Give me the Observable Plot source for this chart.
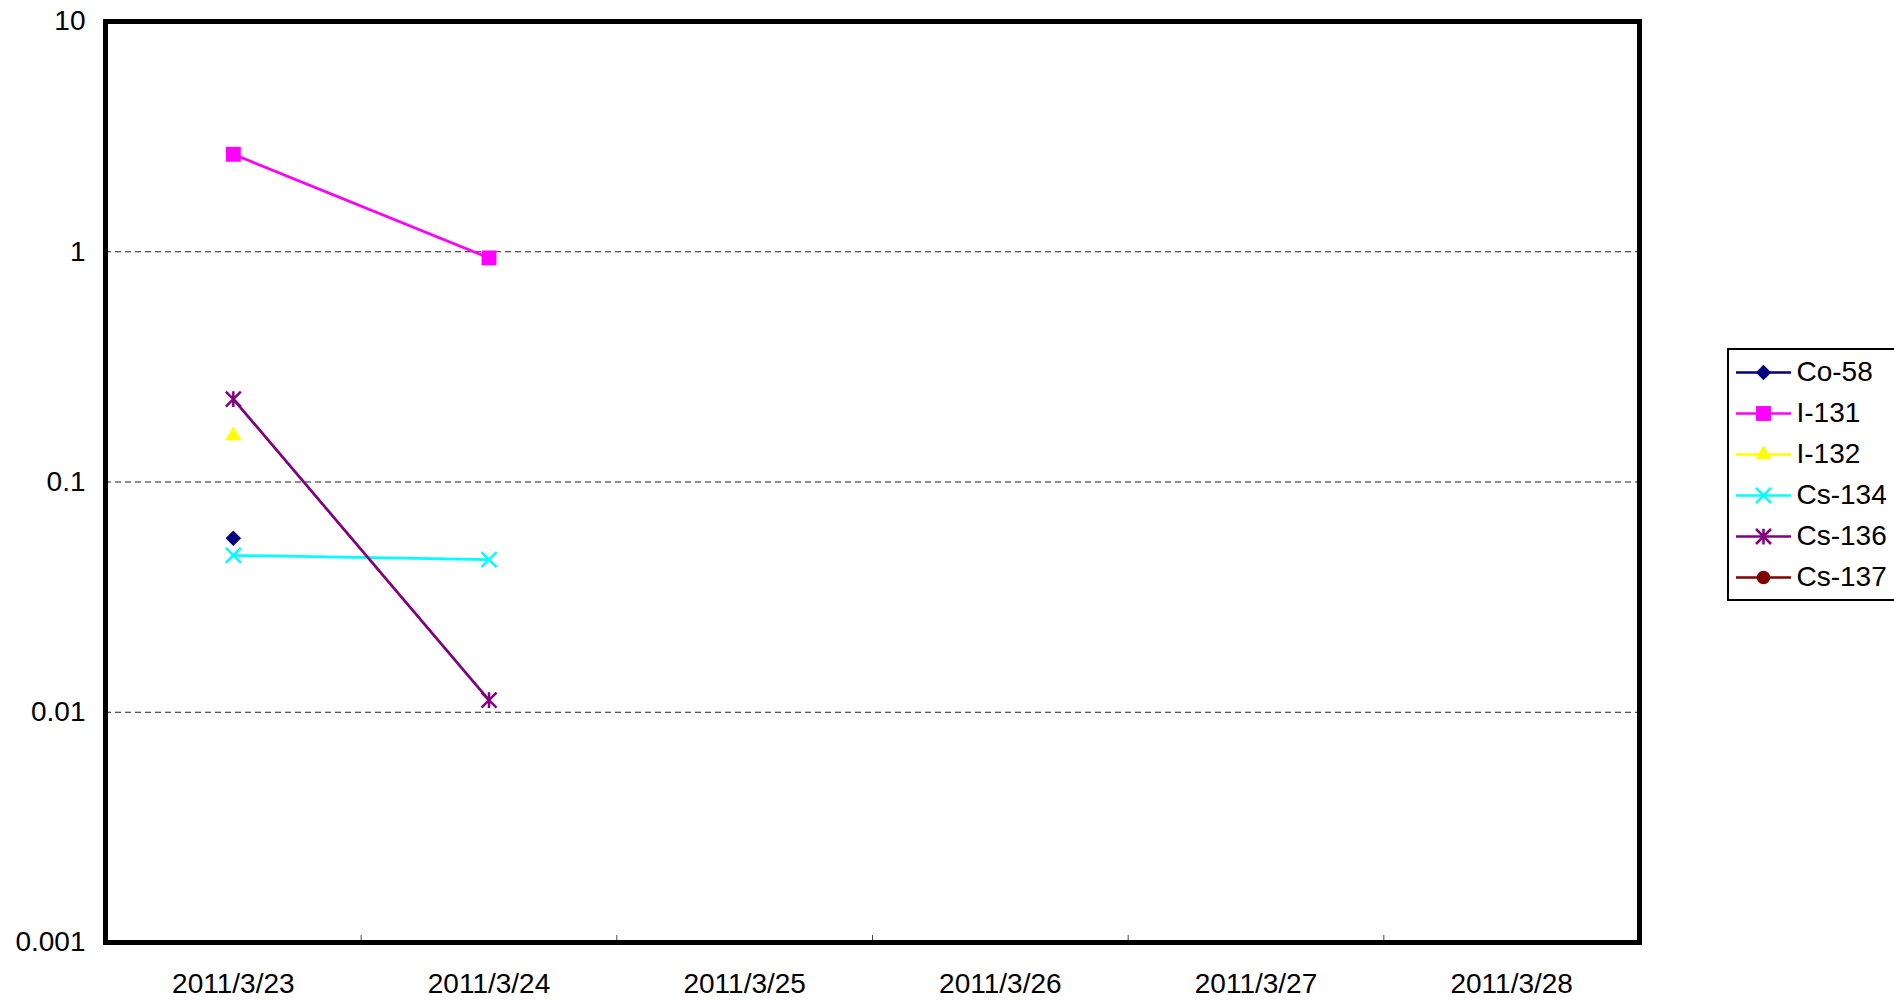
<!DOCTYPE html>
<html><head><meta charset="utf-8">
<script src="https://cdn.jsdelivr.net/npm/d3@7"></script>
<script src="https://cdn.jsdelivr.net/npm/@observablehq/plot@0.6"></script>
<style>
html,body{margin:0;padding:0;background:#fff;overflow:hidden;}
#wrap{position:relative;width:1894px;height:1000px;font-family:"Liberation Sans",Arial,sans-serif;}
#legend{position:absolute;left:1727px;top:348px;width:220px;border:2px solid #000;padding-top:1.5px;padding-bottom:1px;background:#fff;}
.row{display:flex;align-items:center;height:41px;font-size:28px;color:#000;}
.row svg{margin-left:7px;margin-right:5.5px;flex:none;}
</style></head><body><div id="wrap"></div>
<script>
// ---- data ----
const dates = ["2011/3/23", "2011/3/24", "2011/3/25", "2011/3/26", "2011/3/27", "2011/3/28"];
const nuclides = ["Co-58", "I-131", "I-132", "Cs-134", "Cs-136", "Cs-137"];
const co58  = [0.057, null, null, null, null, null];
const i131  = [2.65, 0.94, null, null, null, null];
const i132  = [0.159, null, null, null, null, null];
const cs134 = [0.048, 0.046, null, null, null, null];
const cs136 = [0.229, 0.0113, null, null, null, null];
const cs137 = [null, null, null, null, null, null];
const yTicks = [0.001, 0.01, 0.1, 1, 10];
const seriesValues = [co58, i131, i132, cs134, cs136, cs137];

// ---- styles ----
const asterisk = {
  draw(ctx, size) {
    const r = Math.sqrt(size / Math.PI);
    ctx.moveTo(-r, -r); ctx.lineTo(r, r);
    ctx.moveTo(r, -r); ctx.lineTo(-r, r);
    ctx.moveTo(0, -r * 1.05); ctx.lineTo(0, r * 1.05);
  }
};
const styles = {
  "Co-58":  {color: "#000080", symbol: "diamond2", d3sym: d3.symbolDiamond2, r: 7.0, filled: true},
  "I-131":  {color: "#FF00FF", symbol: "square",   d3sym: d3.symbolSquare,   r: 8.4, filled: true},
  "I-132":  {color: "#FFFF00", symbol: "triangle", d3sym: d3.symbolTriangle, r: 6.0, filled: true},
  "Cs-134": {color: "#00FFFF", symbol: "times",    d3sym: d3.symbolTimes,    r: 6.9, filled: false},
  "Cs-136": {color: "#800080", symbol: asterisk,   d3sym: asterisk,          r: 7.5, filled: false},
  "Cs-137": {color: "#800000", symbol: "circle",   d3sym: d3.symbolCircle,   r: 6.8, filled: true}
};

const rows = nuclides.flatMap((n, si) => dates.map((d, di) => ({nuclide: n, date: d, value: seriesValues[si][di]})));
const xPos = d => dates.indexOf(d.date) + 0.5;

const marks = [
  Plot.ruleY(yTicks.slice(1, -1), {stroke: "#222", strokeWidth: 1, strokeDasharray: "6,4"}),
  Plot.axisX({ticks: d3.range(1, dates.length), tickSize: -7, tickFormat: () => "", stroke: "#444", label: null}),
  Plot.axisX({ticks: dates.map((d, i) => i + 0.5), tickFormat: v => dates[Math.round(v - 0.5)], tickSize: 0, tickPadding: 31, label: null}),
  Plot.axisY({ticks: yTicks, tickFormat: v => String(v), tickSize: 0, tickPadding: 20, label: null})
];
for (const n of nuclides) {
  const s = styles[n];
  const data = rows.filter(r => r.nuclide === n);
  marks.push(Plot.line(data, {x: xPos, y: "value", stroke: s.color, strokeWidth: 2.75}));
}
for (const n of nuclides) {
  const s = styles[n];
  const data = rows.filter(r => r.nuclide === n && r.value != null);
  if (s.filled) marks.push(Plot.dot(data, {x: xPos, y: "value", symbol: s.symbol, r: s.r, fill: s.color, stroke: "none"}));
  else marks.push(Plot.dot(data, {x: xPos, y: "value", symbol: s.symbol, r: s.r, fill: "none", stroke: s.color, strokeWidth: 2.5}));
}
marks.push(Plot.frame({stroke: "#000", strokeWidth: 5}));

const chart = Plot.plot({
  width: 1894, height: 1000,
  marginLeft: 105, marginRight: 255, marginTop: 21, marginBottom: 58,
  style: {fontSize: "28px", fontFamily: '"Liberation Sans", Arial, sans-serif', background: "#fff", color: "#000"},
  x: {type: "linear", domain: [0, dates.length], label: null},
  y: {type: "log", domain: [yTicks[0], yTicks[yTicks.length - 1]], label: null},
  marks
});
const wrap = document.getElementById("wrap");
wrap.appendChild(chart);

// ---- legend ----
const legend = document.createElement("div");
legend.id = "legend";
for (const n of nuclides) {
  const s = styles[n];
  const row = document.createElement("div");
  row.className = "row";
  const svg = d3.create("svg").attr("width", 55).attr("height", 41);
  svg.append("line").attr("x1", 0).attr("x2", 55).attr("y1", 20.5).attr("y2", 20.5)
     .attr("stroke", s.color).attr("stroke-width", 2.5);
  svg.append("path").attr("transform", "translate(27.5,20.5)")
     .attr("d", d3.symbol(s.d3sym, Math.PI * s.r * s.r)())
     .attr("fill", s.filled ? s.color : "none")
     .attr("stroke", s.filled ? "none" : s.color).attr("stroke-width", 2.5);
  row.appendChild(svg.node());
  const label = document.createElement("span");
  label.textContent = n;
  row.appendChild(label);
  legend.appendChild(row);
}
wrap.appendChild(legend);
</script></body></html>
